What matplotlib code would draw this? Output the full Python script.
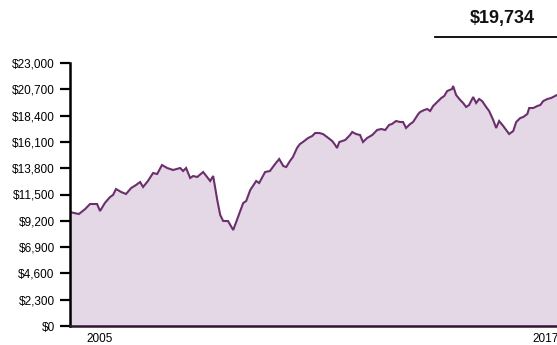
import numpy as np
import matplotlib
matplotlib.use("Agg")
import matplotlib.pyplot as plt
from matplotlib.ticker import FuncFormatter

plt.rcParams['font.family'] = ['Liberation Sans', 'DejaVu Sans']

# growth of an investment (decimal years, dollars)
years = [2004.19, 2004.30, 2004.43, 2004.60, 2004.73, 2004.92, 2005.00, 2005.13,
         2005.27, 2005.35, 2005.43, 2005.57, 2005.70, 2005.84, 2005.97, 2006.08,
         2006.16, 2006.29, 2006.43, 2006.54, 2006.67, 2006.81, 2006.97, 2007.16,
         2007.24, 2007.32, 2007.43, 2007.51, 2007.62, 2007.78, 2007.97, 2008.05,
         2008.16, 2008.24, 2008.32, 2008.45, 2008.59, 2008.72, 2008.86, 2008.94,
         2009.05, 2009.21, 2009.29, 2009.45, 2009.58, 2009.72, 2009.83, 2009.94,
         2010.02, 2010.12, 2010.20, 2010.31, 2010.39, 2010.47, 2010.61, 2010.72,
         2010.80, 2010.91, 2011.01, 2011.12, 2011.26, 2011.34, 2011.39, 2011.45,
         2011.61, 2011.74, 2011.80, 2011.90, 2012.01, 2012.09, 2012.20, 2012.34,
         2012.47, 2012.58, 2012.69, 2012.79, 2012.87, 2012.98, 2013.09, 2013.17,
         2013.25, 2013.36, 2013.44, 2013.58, 2013.63, 2013.74, 2013.82, 2013.90,
         2013.98, 2014.09, 2014.20, 2014.28, 2014.36, 2014.49, 2014.52, 2014.60,
         2014.71, 2014.79, 2014.87, 2014.95, 2015.06, 2015.14, 2015.22, 2015.30,
         2015.41, 2015.49, 2015.60, 2015.68, 2015.76, 2015.87, 2015.95, 2016.03,
         2016.14, 2016.22, 2016.33, 2016.41, 2016.52, 2016.57, 2016.68, 2016.79,
         2016.87, 2016.95, 2017.06, 2017.16, 2017.32]
values = [9969, 9882, 9794, 10232, 10669, 10669, 10057, 10756,
          11281, 11456, 11981, 11718, 11543, 12068, 12330, 12593,
          12155, 12680, 13380, 13292, 14079, 13817, 13642, 13817,
          13555, 13817, 12943, 13118, 13030, 13467, 12680, 13118,
          11019, 9707, 9182, 9182, 8395, 9532, 10756, 10931,
          11893, 12680, 12505, 13467, 13555, 14167, 14604, 13992,
          13904, 14429, 14779, 15566, 15916, 16091, 16441, 16616,
          16878, 16878, 16790, 16528, 16178, 15828, 15566, 16091,
          16266, 16703, 16965, 16790, 16703, 16091, 16441, 16703,
          17140, 17228, 17140, 17577, 17665, 17927, 17840, 17840,
          17315, 17665, 17840, 18539, 18714, 18889, 18977, 18802,
          19239, 19589, 19939, 20114, 20551, 20726, 20988, 20201,
          19764, 19501, 19152, 19326, 20026, 19501, 19851, 19676,
          19152, 18802, 18015, 17315, 17927, 17490, 17140, 16790,
          17053, 17840, 18190, 18277, 18539, 19064, 19064, 19239,
          19326, 19676, 19851, 19939, 20201]

y_ticks = np.arange(0, 23001, 2300)
x_ticks = [2005, 2017]
final_value = "$19,734"

line_c = '#6b2f6d'
fill_c = '#e4d8e6'

fig = plt.figure(figsize=(5.57, 3.45), dpi=100, facecolor='white')
ax = fig.add_axes([70 / 557, 19 / 345, 487 / 557, 263 / 345])

ax.fill_between(years, values, 0, color=fill_c, lw=0)
ax.plot(years, values, color=line_c, lw=1.5, solid_joinstyle='miter')

ax.set_xlim(2004.19, 2017.32)
ax.set_ylim(0, 23000)
ax.set_yticks(y_ticks)
ax.yaxis.set_major_formatter(FuncFormatter(lambda v, p: '${:,.0f}'.format(v)))
ax.set_xticks(x_ticks)
ax.set_xticklabels([str(t) for t in x_ticks])

for s in ['top', 'right']:
    ax.spines[s].set_visible(False)
ax.spines['left'].set_linewidth(1.8)
ax.spines['left'].set_color('black')
ax.spines['bottom'].set_linewidth(1.8)
ax.spines['bottom'].set_color('#2e1530')

ax.tick_params(axis='y', direction='out', length=7, width=1.6, pad=4,
               labelsize=8.5, colors='black')
ax.tick_params(axis='x', length=0, pad=5, labelsize=8.5)

# headline value with rule beneath
fig.text(502 / 557, 1 - 18 / 345, final_value, ha='center', va='center',
         fontsize=13, fontweight='bold', color='#111111')
fig.add_artist(plt.Line2D([435 / 557, 1.0], [1 - 37 / 345, 1 - 37 / 345],
                          color='black', lw=1.3))

fig.savefig('out.png', dpi=100, facecolor='white')
